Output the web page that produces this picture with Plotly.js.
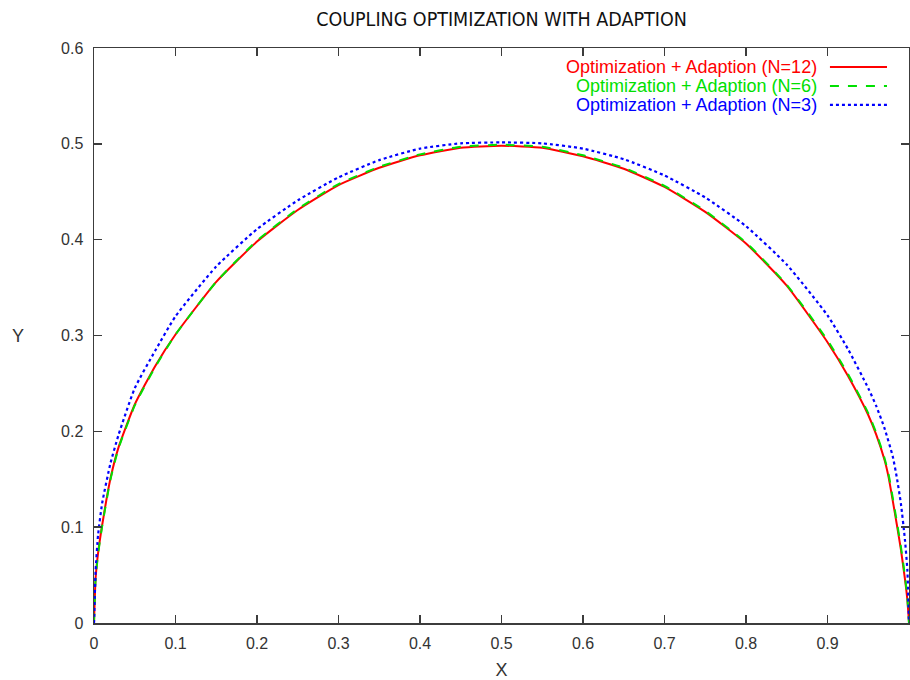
<!DOCTYPE html>
<html>
<head>
<meta charset="utf-8">
<script src="https://cdn.plot.ly/plotly-3.0.1.min.js"></script>
<style>html,body{margin:0;padding:0;background:#fff;}#chart{width:910px;height:680px;}</style>
</head>
<body>
<div id="chart"></div>
<script>
// ---- data ----
const chartTitle = "COUPLING OPTIMIZATION WITH ADAPTION";
const xLabel = "X";
const yLabel = "Y";
const seriesNames = ["Optimization + Adaption (N=12)", "Optimization + Adaption (N=6)", "Optimization + Adaption (N=3)"];

const xN12 = [0, 0.002, 0.005, 0.01, 0.02, 0.03, 0.05, 0.075, 0.1, 0.15, 0.2, 0.25, 0.3, 0.35, 0.4, 0.45, 0.5, 0.55, 0.6, 0.65, 0.7, 0.75, 0.8, 0.85, 0.9, 0.925, 0.95, 0.96, 0.97, 0.975, 0.98, 0.985, 0.99, 0.995, 0.998, 1];
const yN12 = [0, 0.047, 0.073, 0.102, 0.150, 0.183, 0.228, 0.268, 0.301, 0.356, 0.398, 0.431, 0.457, 0.475, 0.488, 0.496, 0.498, 0.496, 0.487, 0.474, 0.455, 0.429, 0.396, 0.352, 0.293, 0.258, 0.217, 0.196, 0.170, 0.152, 0.128, 0.103, 0.077, 0.046, 0.024, 0];

const xN6 = [0, 0.002, 0.005, 0.01, 0.02, 0.03, 0.05, 0.075, 0.1, 0.15, 0.2, 0.25, 0.3, 0.35, 0.4, 0.45, 0.5, 0.55, 0.6, 0.65, 0.7, 0.75, 0.8, 0.85, 0.9, 0.925, 0.95, 0.96, 0.97, 0.975, 0.98, 0.985, 0.99, 0.995, 0.998, 1];
const yN6 = [0, 0.046, 0.072, 0.101, 0.149, 0.182, 0.227, 0.267, 0.301, 0.356, 0.399, 0.432, 0.458, 0.476, 0.489, 0.497, 0.499, 0.497, 0.488, 0.475, 0.456, 0.430, 0.397, 0.353, 0.295, 0.260, 0.219, 0.198, 0.172, 0.155, 0.131, 0.106, 0.080, 0.049, 0.026, 0];

const xN3 = [0, 0.002, 0.005, 0.01, 0.02, 0.03, 0.05, 0.075, 0.1, 0.15, 0.2, 0.25, 0.3, 0.35, 0.4, 0.45, 0.5, 0.55, 0.6, 0.65, 0.7, 0.75, 0.8, 0.85, 0.9, 0.925, 0.95, 0.96, 0.97, 0.98, 0.985, 0.99, 0.995, 0.998, 1];
const yN3 = [0, 0.055, 0.092, 0.125, 0.166, 0.196, 0.245, 0.284, 0.320, 0.372, 0.411, 0.441, 0.465, 0.483, 0.495, 0.5005, 0.5015, 0.5005, 0.495, 0.484, 0.467, 0.444, 0.414, 0.374, 0.321, 0.286, 0.245, 0.226, 0.203, 0.174, 0.152, 0.125, 0.087, 0.055, 0];

const xTicks = [0, 0.1, 0.2, 0.3, 0.4, 0.5, 0.6, 0.7, 0.8, 0.9, 1];
const xTickText = ["0", "0.1", "0.2", "0.3", "0.4", "0.5", "0.6", "0.7", "0.8", "0.9", "1"];
const yTicks = [0, 0.1, 0.2, 0.3, 0.4, 0.5, 0.6];
const yTickText = ["0", "0.1", "0.2", "0.3", "0.4", "0.5", "0.6"];

// ---- styles ----
const colors = ["#ff0000", "#00e000", "#0000ff"];
const dashes = ["solid", "dash", "dot"];
const widths = [2, 2, 2.2];
const xs = [xN12, xN6, xN3];
const ys = [yN12, yN6, yN3];

const traces = xs.map((x, i) => ({
  x: x, y: ys[i], type: "scatter", mode: "lines", name: seriesNames[i],
  line: {color: colors[i], dash: dashes[i], width: widths[i], shape: "spline", smoothing: 0.5}, showlegend: false
}));

const FONT = "'Liberation Sans', Arial, Helvetica, sans-serif";
const axisCommon = {
  showgrid: false, zeroline: false, showline: true, linecolor: "#3c3c3c", linewidth: 1.5,
  mirror: "ticks", ticks: "inside", ticklen: 8, tickwidth: 1.5, tickcolor: "#3c3c3c",
  tickfont: {family: FONT, size: 16, color: "#333"}, tickmode: "array", automargin: false
};

// legend rows (paper coordinates)
const legRowsY = [0.967, 0.934, 0.901];
const annotations = seriesNames.map((n, i) => ({
  xref: "paper", yref: "paper", x: 0.889, y: legRowsY[i], xanchor: "right", yanchor: "middle",
  text: n, showarrow: false, font: {family: FONT, size: 18, color: colors[i]}
}));
annotations.push({
  xref: "paper", yref: "paper", x: -0.093, y: 0.5, xanchor: "center", yanchor: "middle",
  text: yLabel, showarrow: false, font: {family: FONT, size: 18, color: "#333"}
});
const shapes = seriesNames.map((n, i) => ({
  type: "line", xref: "paper", yref: "paper", x0: 0.903, x1: 0.973, y0: legRowsY[i], y1: legRowsY[i],
  line: {color: colors[i], dash: dashes[i], width: widths[i]}
}));

const layout = {
  width: 910, height: 680,
  margin: {l: 94, r: 1, t: 48, b: 57},
  paper_bgcolor: "#fff", plot_bgcolor: "#fff",
  title: {text: chartTitle, x: 0.5, xref: "paper", y: 0.972, yref: "container", yanchor: "middle",
          font: {family: "'Liberation Sans Narrow', 'DejaVu Sans Condensed', Arial, sans-serif", size: 19.5, color: "#111"}},
  xaxis: Object.assign({}, axisCommon, {range: [0, 1], tickvals: xTicks, ticktext: xTickText, ticklabelstandoff: 5,
          title: {text: xLabel, standoff: 14, font: {family: FONT, size: 18, color: "#333"}}}),
  yaxis: Object.assign({}, axisCommon, {range: [0, 0.6], tickvals: yTicks, ticktext: yTickText, ticklabelstandoff: 6}),
  annotations: annotations, shapes: shapes, showlegend: false
};

Plotly.newPlot("chart", traces, layout, {displayModeBar: false, staticPlot: true});
</script>
</body>
</html>
